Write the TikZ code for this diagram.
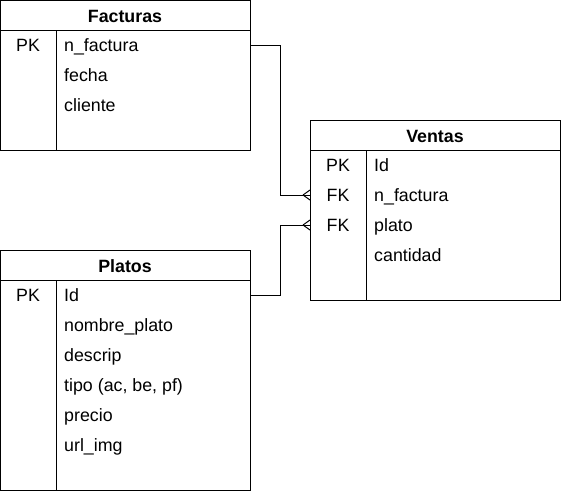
\documentclass[tikz,border=0pt]{standalone}
\usepackage{fontspec}
\setmainfont{Liberation Sans}
\begin{document}
\begin{tikzpicture}[x=1pt,y=-1pt,
  box/.style={draw,line width=1pt},
  conn/.style={draw,line width=1pt},
  hdr/.style={font=\fontsize{17.8}{20}\selectfont\bfseries,anchor=base,inner sep=0pt},
  key/.style={font=\fontsize{17.8}{20}\selectfont,anchor=base,inner sep=0pt},
  fld/.style={font=\fontsize{17.8}{20}\selectfont,anchor=base west,inner sep=0pt}]
\useasboundingbox (0,0) rectangle (561,491);
% Facturas
\draw[box] (0.5,0.5) rectangle (250,150);
\draw[box] (0.5,30) -- (250,30);
\draw[box] (56,30) -- (56,150);
\node[hdr] (fh) at (125,22.5) {Facturas};
\node[key] (fk1) at (28,51.5) {PK};
\node[fld] (f1) at (64,51.5) {n\_factura};
\node[fld] (f2) at (64,81.5) {fecha};
\node[fld] (f3) at (64,111.5) {cliente};
% Ventas
\draw[box] (310,120) rectangle (560,300);
\draw[box] (310,150) -- (560,150);
\draw[box] (366,150) -- (366,300);
\node[hdr] (vh) at (435,142.5) {Ventas};
\node[key] (vk1) at (338,171.5) {PK};
\node[key] (vk2) at (338,201.5) {FK};
\node[key] (vk3) at (338,231.5) {FK};
\node[fld] (v1) at (374,171.5) {Id};
\node[fld] (v2) at (374,201.5) {n\_factura};
\node[fld] (v3) at (374,231.5) {plato};
\node[fld] (v4) at (374,261.5) {cantidad};
% Platos
\draw[box] (0.5,250) rectangle (250,490);
\draw[box] (0.5,280) -- (250,280);
\draw[box] (56,280) -- (56,490);
\node[hdr] (ph) at (125,272.5) {Platos};
\node[key] (pk1) at (28,301.5) {PK};
\node[fld] (p1) at (64,301.5) {Id};
\node[fld] (p2) at (64,331.5) {nombre\_plato};
\node[fld] (p3) at (64,361.5) {descrip};
\node[fld] (p4) at (64,391.5) {tipo (ac, be, pf)};
\node[fld] (p5) at (64,421.5) {precio};
\node[fld] (p6) at (64,451.5) {url\_img};
% connectors
\coordinate (a1) at (250,45);
\coordinate (a2) at (310,195);
\coordinate (b1) at (250,295);
\coordinate (b2) at (310,225);
\draw[conn] (a1) -- (280,45) -- (280,195) -- (a2);
\draw[conn] (303,195) -- (310,190) (303,195) -- (310,200);
\draw[conn] (b1) -- (280,295) -- (280,225) -- (b2);
\draw[conn] (303,225) -- (310,220) (303,225) -- (310,230);
\end{tikzpicture}
\end{document}
